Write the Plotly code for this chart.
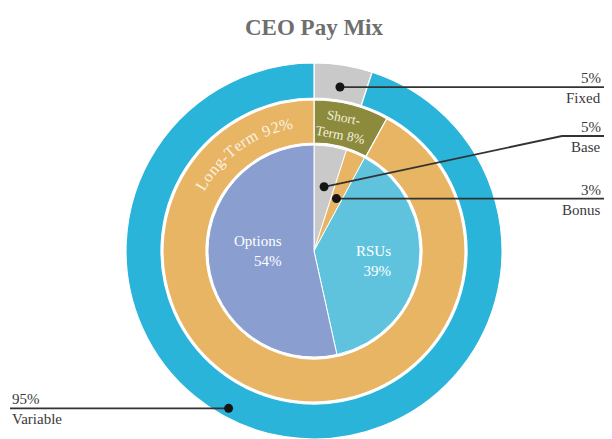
import math
import plotly.graph_objects as go

# ---------------- data ----------------
title_text = "CEO Pay Mix"
outer_labels = ["Fixed", "Variable"]
outer_values = [5, 95]
middle_labels = ["Short-Term", "Long-Term"]
middle_values = [8, 92]
inner_labels = ["Base", "Bonus", "RSUs", "Options"]
inner_values = [5, 3, 39, 54]

# ---------------- styles / layout constants ----------------
VIEW_W, VIEW_H = 612, 439
OFF = 8                      # page body margin
W, H = VIEW_W - OFF, VIEW_H - OFF
VISIBLE_RIGHT = VIEW_W - OFF  # right edge that is actually shown
outer_colors = ["#C9C9C9", "#2BB4DA"]
middle_colors = ["#8C8A3C", "#E8B565"]
inner_colors = ["#C9C9C9", "#E8B565", "#5FC3DE", "#8A9ECF"]
SERIF = "Liberation Serif, Times New Roman, serif"
LINE_COLOR = "#333333"
TEXT_COLOR = "#3a3a3a"

# positions in window pixels
CX, CY = 314, 251
R_OUT, R_OUT_IN = 188, 153
R_MID, R_MID_IN = 151, 108
R_IN = 106


def px(x):
    return (x - OFF) / W


def py(y):
    return 1 - (y - OFF) / H


def domain(r):
    return dict(x=[max(0.0, px(CX - r)), min(1.0, px(CX + r))],
                y=[max(0.0, py(CY + r)), min(1.0, py(CY - r))])


def slice_mid(values, i):
    tot = float(sum(values))
    start = sum(values[:i]) / tot * 360
    end = start + values[i] / tot * 360
    return (start + end) / 2


def polar_px(angle_deg, r):
    a = math.radians(angle_deg)
    return CX + r * math.sin(a), CY - r * math.cos(a)


def pct(v):
    return f"{v:g}%"


fig = go.Figure()
common = dict(sort=False, direction="clockwise", rotation=0, textinfo="none",
              hoverinfo="label+percent", showlegend=False)
fig.add_trace(go.Pie(labels=outer_labels, values=outer_values, hole=R_OUT_IN / R_OUT,
                     marker=dict(colors=outer_colors, line=dict(color="white", width=1.2)),
                     domain=domain(R_OUT), **common))
fig.add_trace(go.Pie(labels=middle_labels, values=middle_values, hole=R_MID_IN / R_MID,
                     marker=dict(colors=middle_colors, line=dict(color="white", width=1.2)),
                     domain=domain(R_MID), **common))
fig.add_trace(go.Pie(labels=inner_labels, values=inner_values,
                     marker=dict(colors=inner_colors, line=dict(color="white", width=1.0)),
                     domain=domain(R_IN), **common))

shapes = []
annotations = []


def add_line(points):
    path = "M " + " L ".join(f"{px(x):.5f},{py(y):.5f}" for x, y in points)
    shapes.append(dict(type="path", path=path, xref="paper", yref="paper", layer="above",
                       line=dict(color=LINE_COLOR, width=1.8)))


def add_dot(x, y):
    shapes.append(dict(type="circle", xref="paper", yref="paper", layer="above",
                       xsizemode="pixel", ysizemode="pixel",
                       xanchor=px(x), yanchor=py(y), x0=-4.5, x1=4.5, y0=-4.5, y1=4.5,
                       fillcolor="#151515", line=dict(color="#151515", width=0)))


def add_label(x, y_line, top, bottom, anchor):
    for txt, dy in ((top, -9), (bottom, 11)):
        annotations.append(dict(text=txt, x=px(x), y=py(y_line + dy), xref="paper", yref="paper",
                                xanchor=anchor, yanchor="middle", showarrow=False,
                                font=dict(family=SERIF, size=15, color=TEXT_COLOR)))


RIGHT = VISIBLE_RIGHT - 1

# Fixed
fx, fy = polar_px(slice_mid(outer_values, 0), 166)
add_line([(fx, fy), (VIEW_W, fy)])
add_dot(fx, fy)
add_label(RIGHT, fy, pct(outer_values[0]), outer_labels[0], "right")

# Base
bx, by = polar_px(slice_mid(inner_values, 0), 65)
add_line([(bx, by), (562, 136), (VIEW_W, 136)])
add_dot(bx, by)
add_label(RIGHT, 136, pct(inner_values[0]), inner_labels[0], "right")

# Bonus
ox, oy = polar_px(slice_mid(inner_values, 1), 57)
add_line([(ox, oy), (VIEW_W, oy)])
add_dot(ox, oy)
add_label(RIGHT, oy, pct(inner_values[1]), inner_labels[1], "right")

# Variable
vx, vy = polar_px(208.5, 179)
add_line([(10, vy), (vx, vy)])
add_dot(vx, vy)
add_label(10, vy, pct(outer_values[1]), outer_labels[1], "left")

# in-slice labels
annotations.append(dict(text=f"{inner_labels[3]}<br>{pct(inner_values[3])}", x=px(284), y=py(251),
                        xref="paper", yref="paper", xanchor="right", yanchor="middle", align="right",
                        showarrow=False, font=dict(family=SERIF, size=15, color="white")))
annotations.append(dict(text=f"{inner_labels[2]}<br>{pct(inner_values[2])}", x=px(393), y=py(261),
                        xref="paper", yref="paper", xanchor="right", yanchor="middle", align="right",
                        showarrow=False, font=dict(family=SERIF, size=15, color="white")))
annotations.append(dict(text=f"Short-<br>Term {pct(middle_values[0])}", x=px(342), y=py(127),
                        xref="paper", yref="paper", xanchor="center", yanchor="middle", align="center",
                        textangle=11, showarrow=False,
                        font=dict(family=SERIF, size=13.5, color="#F4F1DC")))

# Long-Term label set along the arc of its ring, one glyph at a time
CHAR_EM = {"L": 0.611, "o": 0.5, "n": 0.5, "g": 0.5, "-": 0.333, "T": 0.611, "e": 0.444,
           "r": 0.333, "m": 0.778, " ": 0.25, "%": 0.833}
lt_text = f"{middle_labels[1]} {pct(middle_values[1])}"
LT_SIZE, LT_SPACING, LT_R, LT_CENTER = 16, 0.9, 130, -35.5
widths = [CHAR_EM.get(c, 0.5) * LT_SIZE for c in lt_text]
total = sum(widths) + LT_SPACING * (len(lt_text) - 1)
pos = -total / 2
for c, w in zip(lt_text, widths):
    ang = LT_CENTER + math.degrees((pos + w / 2) / LT_R)
    pos += w + LT_SPACING
    if c == " ":
        continue
    cx_, cy_ = polar_px(ang, LT_R)
    annotations.append(dict(text=c, x=px(cx_), y=py(cy_), xref="paper", yref="paper",
                            xanchor="center", yanchor="middle", textangle=ang, showarrow=False,
                            font=dict(family=SERIF, size=LT_SIZE, color="#FBF3E2")))

fig.update_layout(
    width=W, height=H,
    margin=dict(l=0, r=0, t=0, b=0),
    paper_bgcolor="white", plot_bgcolor="white",
    title=dict(text=f"<b>{title_text}</b>", x=px(CX), y=py(27), xanchor="center", yanchor="middle",
               font=dict(family=SERIF, size=23, color="#6E6E6E")),
    shapes=shapes,
    annotations=annotations,
)

fig.write_html("out.html")
